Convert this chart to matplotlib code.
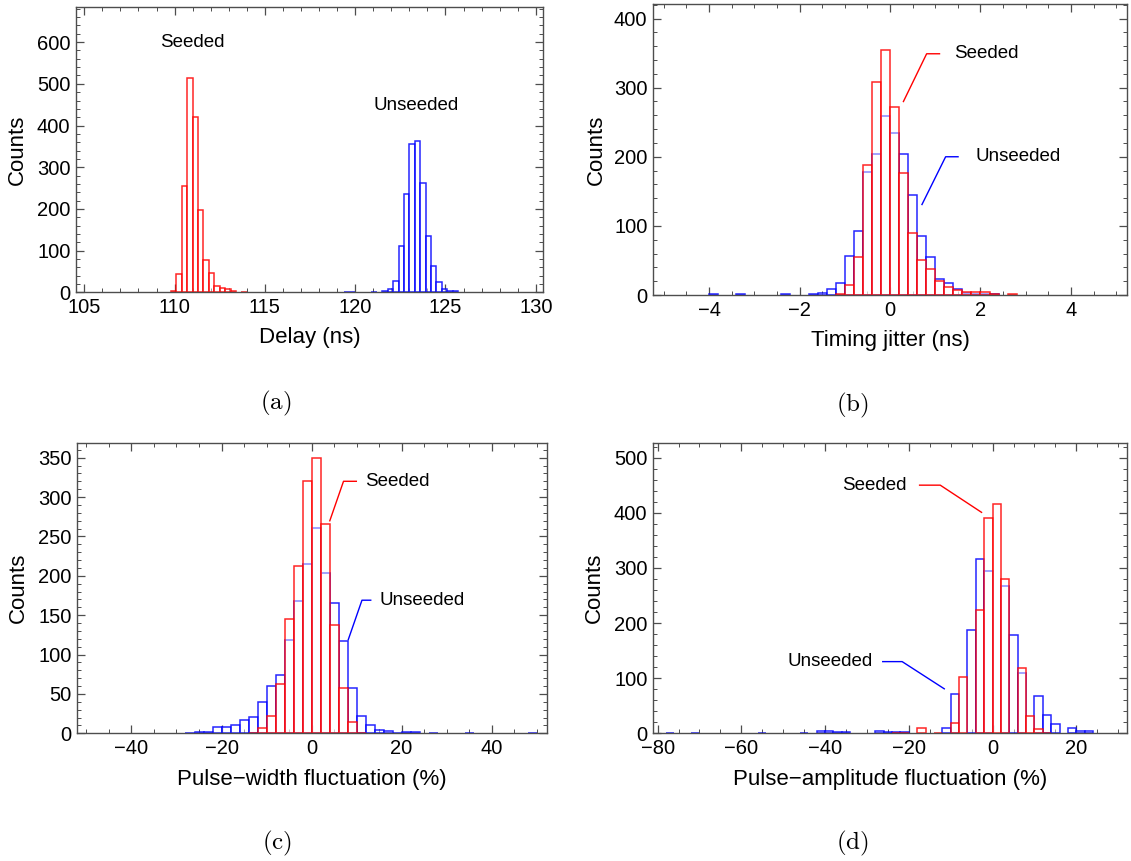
import numpy as np
import matplotlib
matplotlib.use("Agg")
import matplotlib.pyplot as plt
from matplotlib.ticker import MultipleLocator

plt.rcParams['font.family'] = ['Liberation Sans', 'DejaVu Sans']
plt.rcParams['mathtext.fontset'] = 'cm'

# ---------------- data ----------------
# (a) Delay (ns), bin width 0.3
a_bin = 0.3
a_seeded_start = 109.8
a_seeded_counts = [3, 45, 255, 515, 420, 197, 78, 47, 15, 10, 8, 3, 0, 1]
a_unseeded_start = 119.4
a_unseeded_counts = [1, 1, 0, 0, 0, 1, 0, 3, 8, 28, 110, 235, 355, 362, 262,
                     135, 63, 25, 7, 3, 2]

# (b) Timing jitter (ns), bin width 0.2
b_bin = 0.2
b_seeded_left = [-1.2, -1.0, -0.8, -0.6, -0.4, -0.2, 0.0, 0.2, 0.4, 0.6, 0.8,
                 1.0, 1.2, 1.4, 1.6, 1.8, 2.0, 2.2, 2.6]
b_seeded_counts = [1, 14, 55, 188, 308, 354, 272, 176, 89, 50, 37,
                   20, 11, 7, 5, 5, 4, 1, 1]
b_unseeded_left = [-4.0, -3.4, -2.4, -1.8, -1.6, -1.4, -1.2, -1.0, -0.8, -0.6,
                   -0.4, -0.2, 0.0, 0.2, 0.4, 0.6, 0.8, 1.0, 1.2, 1.4, 1.6,
                   1.8, 2.0, 2.2]
b_unseeded_counts = [1, 1, 1, 1, 3, 8, 17, 57, 92, 178,
                     204, 259, 235, 204, 145, 85, 55, 23, 17, 8, 3,
                     2, 2, 1]

# (c) Pulse-width fluctuation (%), bin width 2
c_bin = 2
c_seeded_left = [-14, -12, -10, -8, -6, -4, -2, 0, 2, 4, 6, 8, 10]
c_seeded_counts = [1, 7, 22, 63, 145, 213, 321, 349, 266, 138, 57, 14, 1]
c_unseeded_left = [-28, -26, -24, -22, -20, -18, -16, -14, -12, -10, -8, -6,
                   -4, -2, 0, 2, 4, 6, 8, 10, 12, 14, 16, 18, 20, 22, 26,
                   34, 48]
c_unseeded_counts = [1, 2, 2, 8, 8, 11, 17, 21, 40, 60, 74, 118,
                     168, 215, 261, 204, 165, 117, 57, 22, 10, 4, 3, 1, 2, 2, 1,
                     1, 1]

# (d) Pulse-amplitude fluctuation (%), bin width 2
d_bin = 2
d_seeded_left = [-24, -22, -18, -14, -10, -8, -4, -2, 0, 2, 6, 8, 10, 12]
d_seeded_counts = [1, 1, 9, 1, 19, 102, 224, 390, 415, 280, 118, 31, 8, 1]
d_unseeded_left = [-78, -72, -56, -46, -42, -40, -38, -36, -28, -26, -24, -22,
                   -12, -10, -6, -4, -2, 2, 4, 6, 10, 12, 14, 18, 20, 22]
d_unseeded_counts = [1, 1, 1, 1, 4, 4, 2, 3, 5, 3, 2, 2,
                     10, 71, 187, 316, 294, 267, 178, 110, 68, 34, 17, 10, 5, 5]

RED = (1, 0, 0, 0.85)
BLUE = (0, 0, 1, 0.85)
FRAME = '0.3'

W, H = 1131, 861
fig = plt.figure(figsize=(W / 100, H / 100), dpi=100)


def axes_px(l, t, r, b):
    return fig.add_axes([l / W, 1 - b / H, (r - l) / W, (b - t) / H])


def draw_hist(ax, lefts, counts, width, color):
    xs = [l for l, c in zip(lefts, counts) if c > 0]
    hs = [c for c in counts if c > 0]
    ax.bar(xs, hs, width=width, align='edge', facecolor=(1, 1, 1, 0.45),
           edgecolor=color, linewidth=1.1, zorder=2)


def style(ax, xlim, ylim, xmaj, xmin, ymaj, ymin, xlabel, lab_x, lab_y):
    ax.set_xlim(*xlim)
    ax.set_ylim(*ylim)
    ax.xaxis.set_major_locator(MultipleLocator(xmaj))
    ax.xaxis.set_minor_locator(MultipleLocator(xmin))
    ax.yaxis.set_major_locator(MultipleLocator(ymaj))
    ax.yaxis.set_minor_locator(MultipleLocator(ymin))
    ax.tick_params(which='both', direction='in', top=True, right=True,
                   color=FRAME, labelsize=14.5, labelcolor='black')
    ax.tick_params(which='major', length=5.5, width=0.9, pad=4)
    ax.tick_params(which='minor', length=2.8, width=0.7)
    for sp in ax.spines.values():
        sp.set_color(FRAME)
        sp.set_linewidth(1.0)
    ax.set_xlabel(xlabel, fontsize=16)
    ax.xaxis.label.set_va('center')
    ax.xaxis.set_label_coords(0.5, lab_x)
    ax.set_ylabel('Counts', fontsize=16)
    ax.yaxis.label.set_va('center')
    ax.yaxis.set_label_coords(lab_y, 0.5)


def callout(ax, text, tx, ty, pts, color, ha):
    xs = [p[0] for p in pts]
    ys = [p[1] for p in pts]
    ax.plot(xs, ys, color=color, lw=1.0, zorder=3, solid_capstyle='butt')
    ax.text(tx, ty, text, ha=ha, va='center', fontsize=13.5, zorder=4)


# ---- (a) ----
axa = axes_px(76, 6.7, 543, 292.3)
a_seeded_left = a_seeded_start + a_bin * np.arange(len(a_seeded_counts))
a_unseeded_left = a_unseeded_start + a_bin * np.arange(len(a_unseeded_counts))
draw_hist(axa, a_unseeded_left, a_unseeded_counts, a_bin, BLUE)
draw_hist(axa, a_seeded_left, a_seeded_counts, a_bin, RED)
style(axa, (104.54, 130.4), (0, 685), 5, 1, 100, 20, 'Delay (ns)', -0.16, -0.125)
axa.text(111.0, 599, 'Seeded', ha='center', va='center', fontsize=13.5)
axa.text(123.4, 447, 'Unseeded', ha='center', va='center', fontsize=13.5)

# ---- (b) ----
axb = axes_px(653, 4, 1127, 295)
draw_hist(axb, b_unseeded_left, b_unseeded_counts, b_bin, BLUE)
draw_hist(axb, b_seeded_left, b_seeded_counts, b_bin, RED)
style(axb, (-5.24, 5.24), (0, 421), 2, 0.5, 100, 20, 'Timing jitter (ns)', -0.155, -0.12)
callout(axb, 'Seeded', 1.42, 349, [(1.11, 349), (0.81, 349), (0.29, 279)], 'red', 'left')
callout(axb, 'Unseeded', 1.89, 200, [(1.52, 200), (1.23, 200), (0.70, 130)], 'blue', 'left')

# ---- (c) ----
axc = axes_px(77, 442.7, 547, 733.3)
draw_hist(axc, c_unseeded_left, c_unseeded_counts, c_bin, BLUE)
draw_hist(axc, c_seeded_left, c_seeded_counts, c_bin, RED)
style(axc, (-52.1, 52.3), (0, 369), 20, 5, 50, 10, 'Pulse\u2212width fluctuation (%)', -0.16, -0.125)
callout(axc, 'Seeded', 11.9, 320, [(10.1, 320), (7.1, 320), (4.0, 269)], 'red', 'left')
callout(axc, 'Unseeded', 15.0, 169, [(13.3, 169), (11.2, 169), (8.1, 118)], 'blue', 'left')

# ---- (d) ----
axd = axes_px(653, 442.7, 1127, 733.3)
draw_hist(axd, d_unseeded_left, d_unseeded_counts, d_bin, BLUE)
draw_hist(axd, d_seeded_left, d_seeded_counts, d_bin, RED)
style(axd, (-81.1, 32.1), (0, 527), 20, 5, 100, 20, 'Pulse\u2212amplitude fluctuation (%)', -0.16, -0.124)
callout(axd, 'Seeded', -20.5, 450, [(-17.6, 450), (-12.5, 450), (-2.5, 400)], 'red', 'right')
callout(axd, 'Unseeded', -28.7, 130, [(-26.4, 130), (-21.6, 130), (-11.4, 80)], 'blue', 'right')

# subfigure labels
for lab, x, y in [('(a)', 276, 403), ('(b)', 852, 405), ('(c)', 277, 843), ('(d)', 852, 843)]:
    fig.text(x / W, 1 - y / H, r'$\mathrm{' + lab + '}$', ha='center', va='center', fontsize=18)

fig.savefig('out.png', dpi=100)
